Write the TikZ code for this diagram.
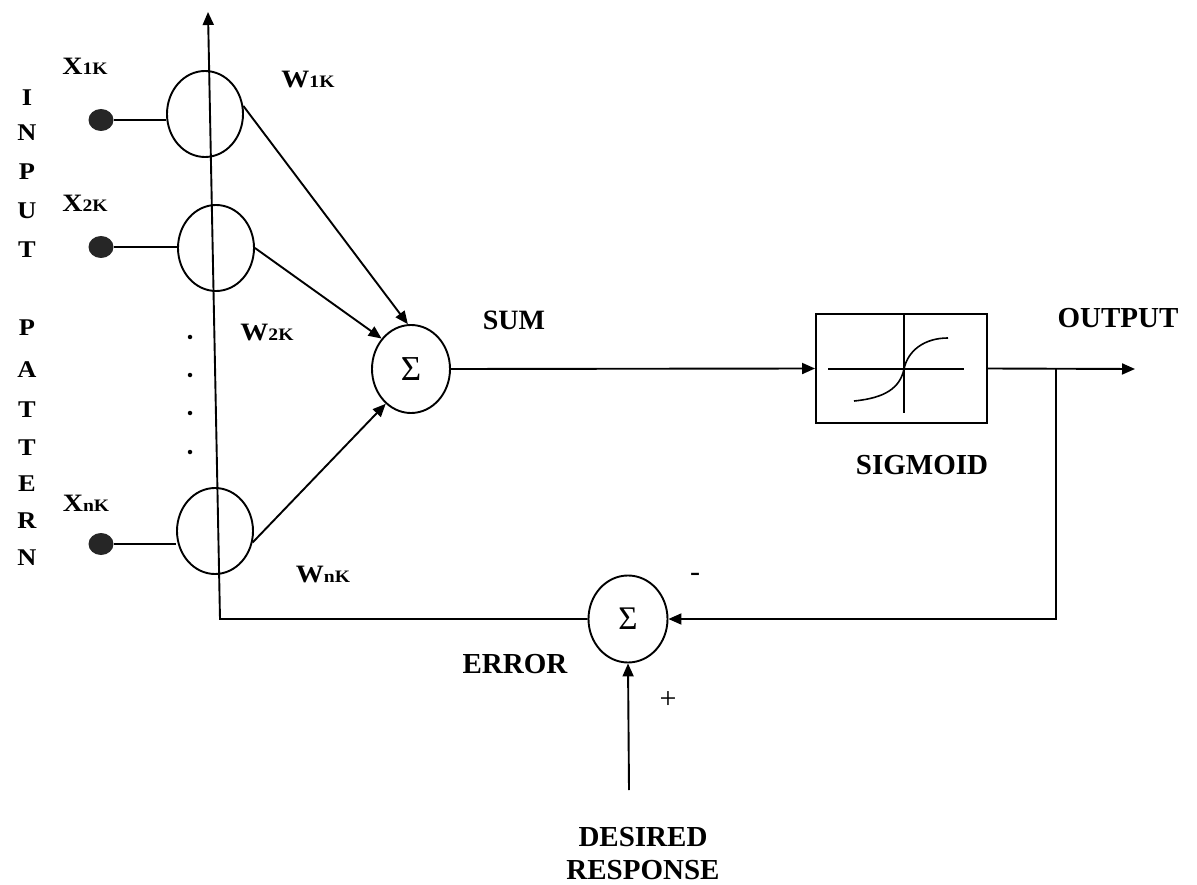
\documentclass[tikz,border=0pt]{standalone}
\usepackage{fontspec}
\setmainfont{Liberation Serif}
\usetikzlibrary{arrows.meta,shapes.geometric,calc}
\newcommand{\wlab}[2]{\scalebox{1.12}[1]{#1{\fontsize{17.5}{19}\selectfont #2}}}
\newcommand{\vlet}[1]{\scalebox{1.1}[1]{#1}}
\begin{document}
\begin{tikzpicture}[x=1pt,y=-1pt,
  line width=1.9pt,
  tip/.style={-{Triangle[length=13pt,width=11pt]}},
  neuron/.style={draw,ellipse,minimum width=76pt,minimum height=86pt,inner sep=0pt},
  sumnode/.style={draw,ellipse,minimum width=78pt,minimum height=88pt,inner sep=0pt},
  indot/.style={ellipse,fill=black!85,minimum width=25pt,minimum height=22pt,inner sep=0pt},
  lbl/.style={font=\fontsize{29}{32}\selectfont\bfseries,inner sep=0pt},
  xl/.style={font=\fontsize{25}{27}\selectfont\bfseries,inner sep=0pt},
  let/.style={font=\fontsize{24}{26}\selectfont\bfseries,inner sep=0pt},
  pm/.style={font=\fontsize{30}{32}\selectfont,inner sep=0pt},
  dotl/.style={circle,fill=black,minimum size=4.5pt,inner sep=0pt}
]
\path[use as bounding box] (0,0) rectangle (1197,885);

% vertical INPUT PATTERN letters
\foreach \c/\yy [count=\i] in {I/98,N/133,P/172,U/211,T/250,P/328,A/370,T/410,T/448,E/484,R/521,N/558}
  \node[let] (L\i) at (27,\yy) {\vlet{\c}};

% input dots
\node[indot] (d1) at (101,120) {};
\node[indot] (d2) at (101,247) {};
\node[indot] (dn) at (101,544) {};

% input neurons
\node[neuron] (c1) at (205,114) {};
\node[neuron] (c2) at (216,248) {};
\node[neuron] (cn) at (215,531) {};

\draw (d1.east) -- (d1.east -| c1.west);
\draw (d2.east) -- (d2.east -| c2.west);
\draw (dn.east) -- (dn.east -| cn.west);

% vertical dots
\node[dotl] (v1) at (190,337) {};
\node[dotl] (v2) at (190,375) {};
\node[dotl] (v3) at (190,413) {};
\node[dotl] (v4) at (190,452) {};

% labels X and W
\node[xl] (x1) at (85,66) {\wlab{X}{1K}};
\node[xl] (x2) at (85,203) {\wlab{X}{2K}};
\node[xl] (xn) at (86,503) {\wlab{X}{nK}};
\node[xl] (w1) at (308,80) {\wlab{W}{1K}};
\node[xl] (w2) at (267,333) {\wlab{W}{2K}};
\node[xl] (wn) at (323,575) {\wlab{W}{nK}};

% summing node
\node[sumnode] (sum) at (411,369) {\fontsize{35}{37}\selectfont Σ};
\draw[tip] (c1.12) -- (sum.94);
\draw[tip] (c2.0) -- (sum.134);
\draw[tip] (cn.343) -- (sum.234);
\node[lbl,font=\fontsize{28}{30}\selectfont\bfseries] (sumlbl) at (514,320) {SUM};

% sigmoid box
\node[draw,rectangle,minimum width=171pt,minimum height=109pt,inner sep=0pt] (box) at (901.5,368.5) {};
\draw[line width=1.6pt] (828,369) -- (964,369);
\draw[line width=1.6pt] (904,315) -- (904,413);
\draw[line width=1.6pt] (854,401) .. controls (885,398) and (900,388) .. (904,369)
      .. controls (908,350) and (925,338) .. (948,338);
\draw[tip] (sum.east) -- (box.west);
\node[lbl] (sig) at (922,465) {SIGMOID};

% output
\coordinate (j) at (1056,369);
\coordinate (outtip) at (1135,369);
\draw[tip] (box.east) -- (outtip);
\node[lbl] (out) at (1118,318) {OUTPUT};

% error summing node
\node[sumnode,minimum width=79pt,minimum height=87pt] (esum) at (628,619) {\fontsize{33}{35}\selectfont Σ};
\draw[tip] (j) |- (esum.east);
\coordinate (corner) at (220,619);
\coordinate (top) at (208,12);
\draw[tip] (esum.west) -- (corner) -- (top);
\node[pm] (minus) at (695,577) {-};
\node[pm] (plus) at (668,700) {+};
\node[lbl] (err) at (515,664) {ERROR};

% desired response
\coordinate (dr) at (629,790);
\draw[tip] (dr) -- (esum.south);
\node[lbl] (des1) at (643,837) {DESIRED};
\node[lbl] (des2) at (643,870) {RESPONSE};
\end{tikzpicture}
\end{document}
